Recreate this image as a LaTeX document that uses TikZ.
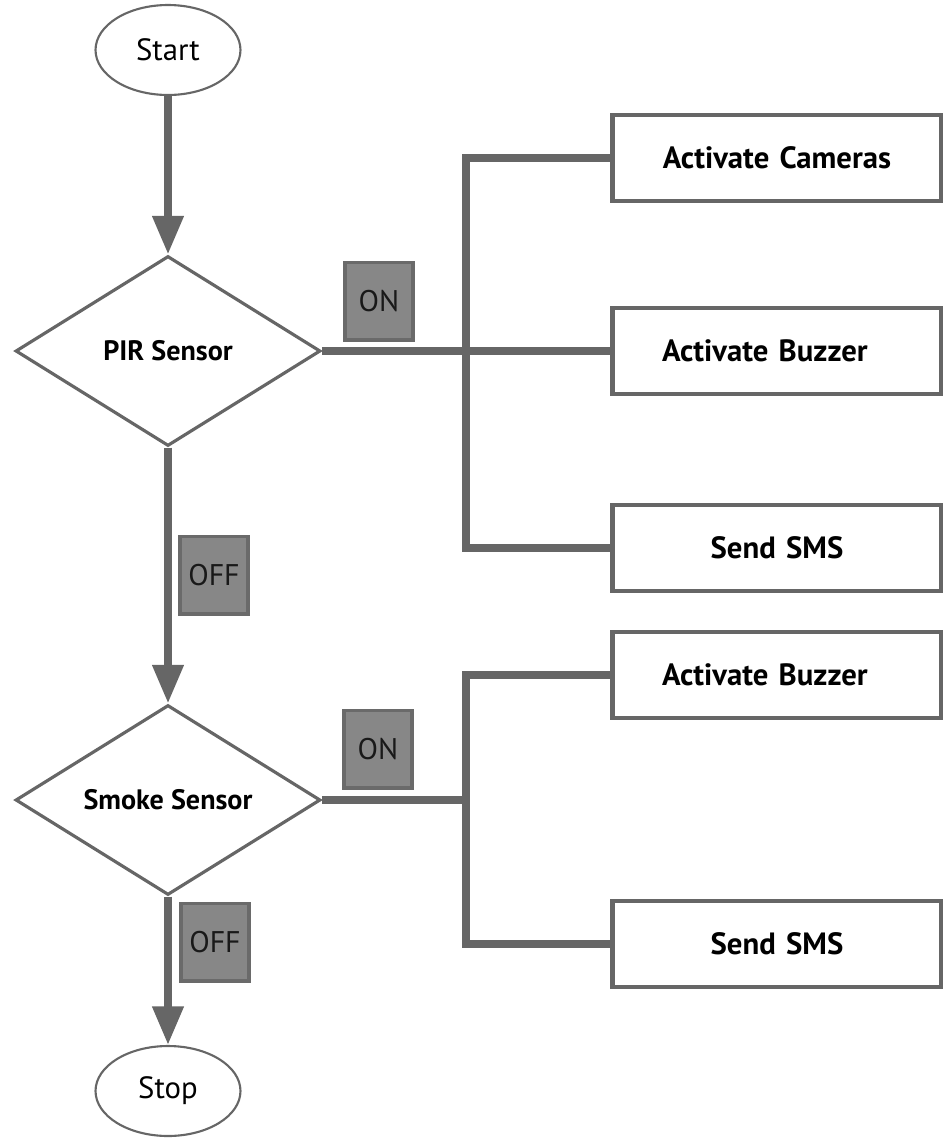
\documentclass[tikz,border=0pt]{standalone}
\usepackage{fontspec}
\setmainfont{PT Sans}
\usetikzlibrary{shapes.geometric,arrows.meta}
\definecolor{linegray}{HTML}{666666}
\definecolor{tagfill}{HTML}{878787}
\definecolor{tagdraw}{HTML}{6A6A6A}
\tikzstyle{terminal}=[ellipse,draw=linegray,line width=1.2pt,minimum width=2.9cm,minimum height=1.8cm,font=\fontsize{17.5}{19}\selectfont]
\tikzstyle{decision}=[diamond,draw=linegray,line width=1.8pt,minimum width=6.1cm,minimum height=3.8cm,inner sep=0pt,aspect=1.6,font=\bfseries\fontsize{16}{18}\selectfont]
\tikzstyle{action}=[rectangle,draw=linegray,line width=2.5pt,text width=4.6cm,inner xsep=0.99cm,minimum height=1.72cm,align=center,font=\bfseries\fontsize{17.5}{19}\selectfont]
\tikzstyle{tag}=[rectangle,fill=tagfill,draw=tagdraw,line width=2pt,minimum width=1.36cm,minimum height=1.55cm,text=black!90,font=\fontsize{17}{19}\selectfont]
\tikzstyle{flow}=[draw=linegray,line width=4.5pt,-{Triangle[width=17pt,length=22pt]}]
\tikzstyle{branch}=[draw=linegray,line width=4.5pt]

\begin{document}
\begin{tikzpicture}[x=0.02cm,y=-0.02cm]
			\useasboundingbox (0,0) rectangle (943,1143);
			\node[terminal] (start) at (168,50) {Start};
			\node[decision] (pir) at (168,351) {PIR Sensor};
			\node[decision] (smoke) at (168,800) {Smoke Sensor};
			\node[terminal] (stop) at (168,1091) {Stop};
			\node[action] (cam) at (777,158) {Activate Cameras};
			\node[action,align=left] (buzA) at (777,351) {Activate Buzzer};
			\node[action] (smsA) at (777,548) {Send SMS};
			\node[action,align=left] (buzB) at (777,675) {Activate Buzzer};
			\node[action] (smsB) at (777,944) {Send SMS};
			\coordinate (hubA) at (466,351);
			\coordinate (hubB) at (466,800);
			% Then the connectors
			\draw[flow] (start) -- (pir);
			\draw[flow] (pir) -- (smoke);
			\draw[flow] (smoke) -- (stop);
			\draw[branch] (pir.east) -- (buzA.west);
			\draw[branch] (cam.west) -| (hubA) |- (smsA.west);
			\draw[branch] (smoke.east) -- (hubB);
			\draw[branch] (buzB.west) -| (hubB) |- (smsB.west);
			% And the ON / OFF tags
			\node[tag] (onA) at (379,301) {ON};
			\node[tag] (offA) at (214,575) {OFF};
			\node[tag] (onB) at (378,749) {ON};
			\node[tag] (offB) at (215,942) {OFF};
		\end{tikzpicture}
\end{document}
